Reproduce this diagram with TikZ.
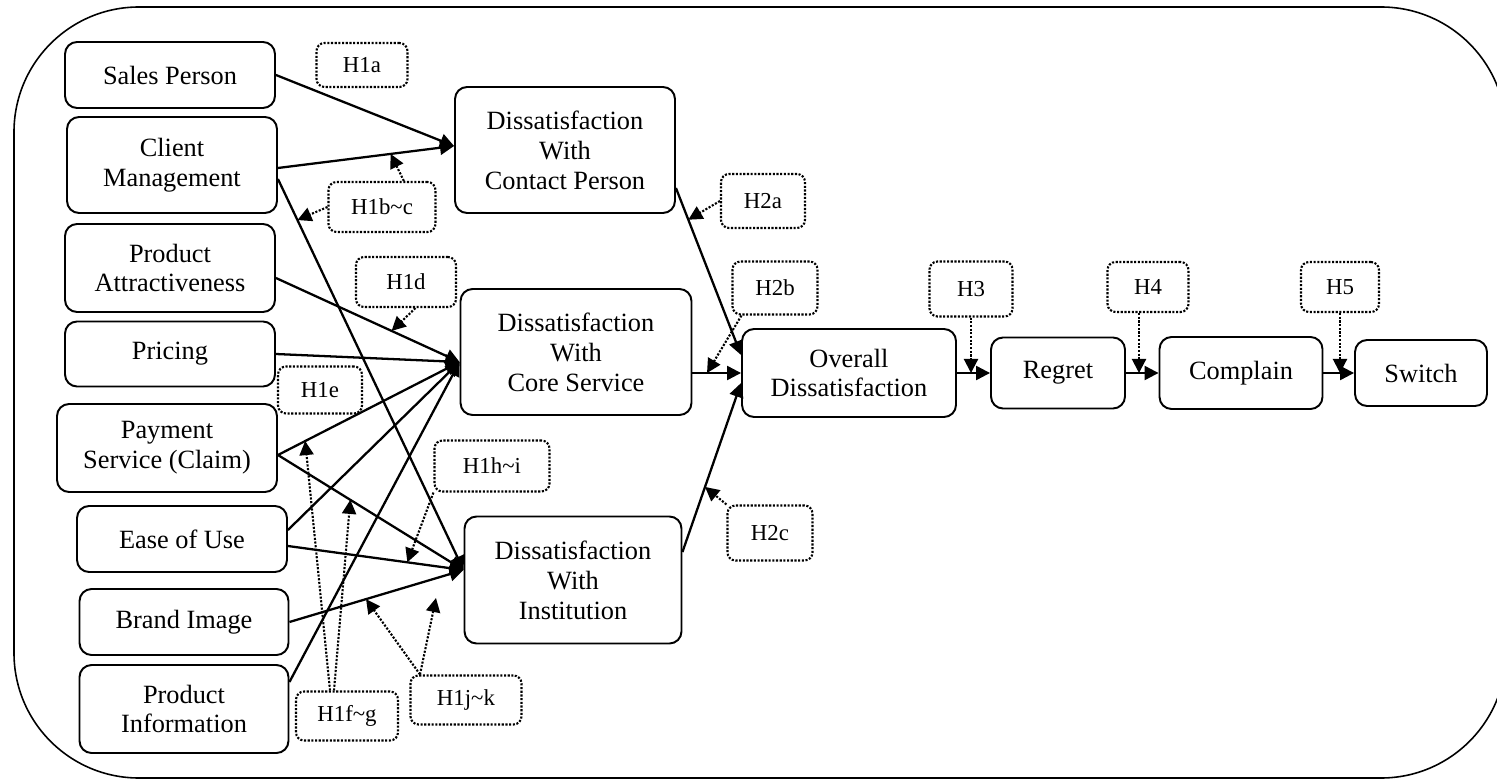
\documentclass[tikz,border=0pt]{standalone}
\usepackage{fontspec}
\setmainfont{Liberation Serif}
\usetikzlibrary{arrows.meta,calc}

\begin{document}
\begin{tikzpicture}[x=0.02cm, y=-0.02cm,
	box/.style={draw, rectangle, rounded corners=0.24cm, line width=1.1pt, align=center, inner sep=0pt, font=\fontsize{15}{17}\selectfont},
	hyp/.style={draw, rectangle, rounded corners=0.16cm, line width=1.2pt, dash pattern=on 1.2pt off 0.9pt, inner sep=0pt, font=\fontsize{13}{15}\selectfont},
	link/.style={->, line width=1.3pt},
	hlink/.style={->, line width=1.2pt, dash pattern=on 1.2pt off 0.9pt},
	>={Triangle[length=8pt, width=8pt]}]
	\useasboundingbox (0,0) rectangle (1497,780);
	% Outer frame
	\draw[line width=0.9pt, rounded corners=2.5cm] (14,7) rectangle (1506,778);

	% Antecedents (Left)
	\node (sales) [box, minimum width=4.2cm, minimum height=1.32cm] at (170,75) {Sales Person};
	\node (client) [box, minimum width=4.2cm, minimum height=1.92cm] at (172,165) {Client\\Management};
	\node (attract) [box, minimum width=4.2cm, minimum height=1.76cm] at (170,268) {Product\\Attractiveness};
	\node (pricing) [box, minimum width=4.2cm, minimum height=1.3cm] at (170,354) {Pricing};
	\node (payment) [box, minimum width=4.4cm, minimum height=1.76cm] at (167,448) {Payment\\Service (Claim)};
	\node (ease) [box, minimum width=4.2cm, minimum height=1.32cm] at (182,539) {Ease of Use};
	\node (brand) [box, minimum width=4.18cm, minimum height=1.32cm] at (184,622) {Brand Image};
	\node (info) [box, minimum width=4.18cm, minimum height=1.76cm] at (184,709) {Product\\Information};

	% Dissatisfaction (Middle)
	\node (dcp) [box, minimum width=4.4cm, minimum height=2.52cm] at (565,150) {Dissatisfaction\\With\\Contact Person};
	\node (dcs) [box, minimum width=4.62cm, minimum height=2.52cm] at (576,352) {Dissatisfaction\\With\\Core Service};
	\node (dinst) [box, minimum width=4.34cm, minimum height=2.54cm] at (573,580) {Dissatisfaction\\With\\Institution};

	% Outcomes (Right)
	\node (overall) [box, minimum width=4.28cm, minimum height=1.76cm] at (849,373) {Overall\\Dissatisfaction};
	\node (regret) [box, minimum width=2.68cm, minimum height=1.42cm] at (1058,373) {Regret};
	\node (complain) [box, minimum width=3.26cm, minimum height=1.44cm] at (1241,373) {Complain};
	\node (switch) [box, minimum width=2.64cm, minimum height=1.32cm] at (1421,373) {Switch};

	% Hypotheses
	\node (h1a) [hyp, minimum width=1.82cm, minimum height=0.88cm] at (362,65) {H1a};
	\node (h1bc) [hyp, minimum width=2.14cm, minimum height=1cm] at (382,207) {H1b\textasciitilde c};
	\node (h1d) [hyp, minimum width=2cm, minimum height=1cm] at (406,282) {H1d};
	\node (h1e) [hyp, minimum width=1.68cm, minimum height=0.94cm] at (320,390) {H1e};
	\node (h1fg) [hyp, minimum width=2.04cm, minimum height=0.98cm] at (347,716) {H1f\textasciitilde g};
	\node (h1hi) [hyp, minimum width=2.3cm, minimum height=1.02cm] at (492,466) {H1h\textasciitilde i};
	\node (h1jk) [hyp, minimum width=2.22cm, minimum height=0.98cm] at (466,700) {H1j\textasciitilde k};
	\node (h2a) [hyp, minimum width=1.68cm, minimum height=1.08cm] at (763,201) {H2a};
	\node (h2b) [hyp, minimum width=1.7cm, minimum height=1.06cm] at (775,288) {H2b};
	\node (h2c) [hyp, minimum width=1.7cm, minimum height=1.1cm] at (770,533) {H2c};
	\node (h3) [hyp, minimum width=1.66cm, minimum height=1.1cm] at (971,289) {H3};
	\node (h4) [hyp, minimum width=1.62cm, minimum height=1cm] at (1148,287) {H4};
	\node (h5) [hyp, minimum width=1.56cm, minimum height=1cm] at (1340,287) {H5};

	% Arrow ends
	\coordinate (dcpin) at ([yshift=0.08cm]dcp.west);
	\coordinate (dcsin) at ([yshift=-0.2cm]dcs.west);
	\coordinate (diin) at ([yshift=0.2cm]dinst.west);
	\coordinate (clientA) at ([yshift=-0.06cm]client.east);
	\coordinate (clientB) at ([yshift=-0.28cm]client.east);
	\coordinate (attractout) at ([yshift=-0.2cm]attract.east);
	\coordinate (payout) at ([yshift=-0.14cm]payment.east);
	\coordinate (easeA) at ([yshift=0.18cm]ease.east);
	\coordinate (easeB) at ([yshift=-0.14cm]ease.east);
	\coordinate (infoout) at ([yshift=0.54cm]info.east);
	\coordinate (dcpout) at ([yshift=-0.76cm]dcp.east);
	\coordinate (dcsout) at (dcs.east |- overall.west);
	\coordinate (diout) at ([yshift=0.56cm]dinst.east);
	\coordinate (ovA) at ([yshift=0.36cm]overall.west);
	\coordinate (ovC) at ([yshift=-0.2cm]overall.west);
	\coordinate (jkend) at (436,598);

	\draw[link] (sales.east) -- (dcpin);
	\draw[link] (clientA) -- (dcpin);
	\draw[link] (clientB) -- (diin);
	\draw[link] (attractout) -- (dcsin);
	\draw[link] (pricing.east) -- (dcsin);
	\draw[link] (payout) -- (dcsin);
	\draw[link] (payout) -- (diin);
	\draw[link] (easeA) -- (dcsin);
	\draw[link] (easeB) -- (diin);
	\draw[link] (brand.east) -- (diin);
	\draw[link] (infoout) -- (dcsin);

	\draw[link] (dcpout) -- (ovA);
	\draw[link] (dcsout) -- (overall.west);
	\draw[link] (diout) -- (ovC);
	\draw[link] (overall) -- (regret);
	\draw[link] (regret) -- (complain);
	\draw[link] (complain) -- (switch);

	% Hypothesis pointers
	\draw[hlink] (h1bc.50) -- ($(clientA)!0.64!(dcpin)$);
	\draw[hlink] (h1bc.west) -- ($(clientB)!0.105!(diin)$);
	\draw[hlink] (h1d.-70) -- ($(attractout)!0.63!(dcsin)$);
	\draw[hlink] ([xshift=-0.34cm]h1fg.north) -- ($(payout)!0.15!(dcsin)$);
	\draw[hlink] ([xshift=-0.26cm]h1fg.north) -- ($(payout)!0.39!(diin)$);
	\draw[hlink] (h1hi.south west) -- ($(easeB)!0.68!(diin)$);
	\draw[hlink] ([xshift=-0.92cm]h1jk.north) -- ($(brand.east)!0.44!(diin)$);
	\draw[hlink] ([xshift=-0.92cm]h1jk.north) -- (jkend);
	\draw[hlink] (h2a.west) -- ($(dcpout)!0.19!(ovA)$);
	\draw[hlink] ([xshift=0.2cm]h2b.south west) -- ($(dcsout)!0.3!(overall.west)$);
	\draw[hlink] (h2c.north west) -- ($(diout)!0.385!(ovC)$);
	\draw[hlink] (h3.south) -- (h3.south |- overall.east);
	\draw[hlink] ([xshift=-0.18cm]h4.south) -- ([xshift=-0.18cm]h4.south |- regret.east);
	\draw[hlink] (h5.south) -- (h5.south |- complain.east);
\end{tikzpicture}
\end{document}
